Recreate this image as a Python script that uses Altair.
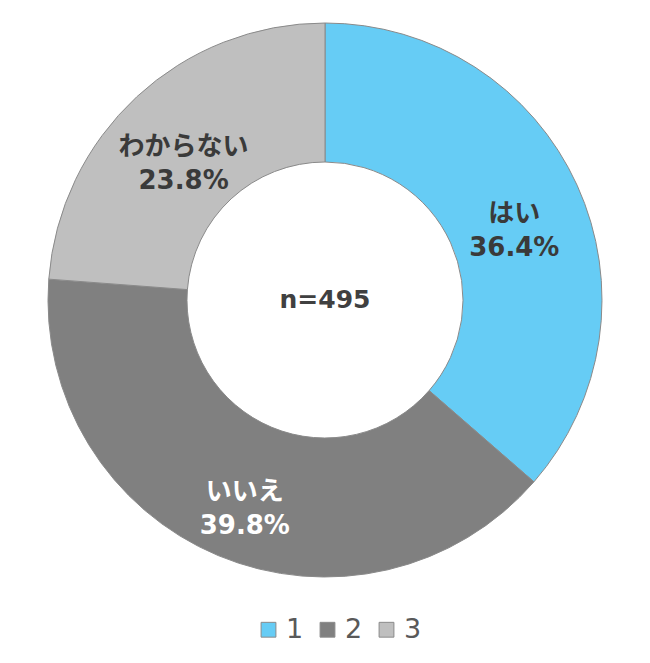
import altair as alt
import pandas as pd

codes = ["1", "2", "3"]
names = ["はい", "いいえ", "わからない"]
values = [36.4, 39.8, 23.8]
fills = ["#66CCF5", "#808080", "#BFBFBF"]
text_colors = ["#3a3a3a", "#ffffff", "#3a3a3a"]
center_label = "n=495"

df = pd.DataFrame({
    "code": codes,
    "name": names,
    "value": values,
    "order": list(range(len(codes))),
    "label": [f"{n}\n{v:.1f}%" for n, v in zip(names, values)],
    "tc": text_colors,
})

base = alt.Chart(df).encode(
    theta=alt.Theta("value:Q", stack=True),
    order=alt.Order("order:Q"),
)

arcs = base.mark_arc(innerRadius=138, outerRadius=277, stroke="#8a8a8a", strokeWidth=1).encode(
    color=alt.Color(
        "code:N",
        scale=alt.Scale(domain=codes, range=fills),
        legend=alt.Legend(
            title=None,
            orient="none",
            legendX=247,
            legendY=608,
            direction="horizontal",
            symbolType="square",
            symbolSize=220,
            symbolStrokeColor="#8a8a8a",
            symbolStrokeWidth=1,
            labelFontSize=27,
            labelFont="DejaVu Sans",
            labelColor="#595959",
            labelOffset=4,
            columnPadding=10,
        ),
    )
)

labels = base.mark_text(
    radius=208,
    fontSize=26,
    fontWeight="bold",
    font="DejaVu Sans, Noto Sans CJK JP",
    lineBreak="\n",
    lineHeight=34,
    align="center",
    baseline="middle",
).encode(
    text="label:N",
    fill=alt.Fill("tc:N", scale=None, legend=None),
)

center = alt.Chart(pd.DataFrame({"t": [center_label]})).mark_text(
    fontSize=25,
    fontWeight="bold",
    font="DejaVu Sans",
    color="#404040",
    align="center",
    baseline="middle",
).encode(text="t:N", x=alt.value(317), y=alt.value(292))

chart = alt.layer(arcs, labels, center).properties(
    width=634, height=584, padding=0
).configure(background="white").configure_view(strokeWidth=0, stroke=None)

chart.save("out.html", embed_options={"renderer": "svg", "actions": False})
